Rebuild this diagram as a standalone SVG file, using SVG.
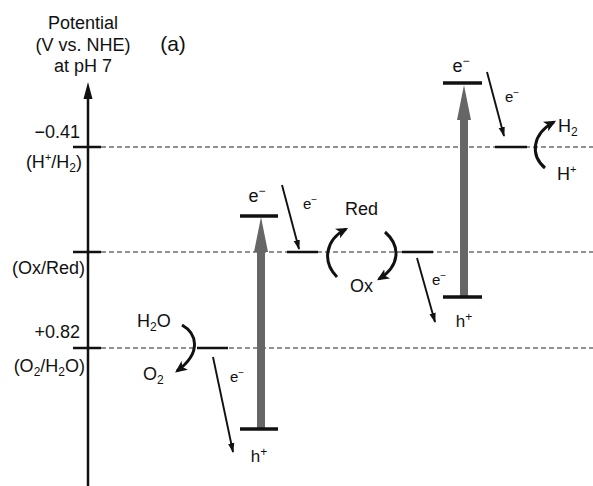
<svg xmlns="http://www.w3.org/2000/svg" width="593" height="486" viewBox="0 0 593 486">
<defs>
<style>
text{font-family:"Liberation Sans",Arial,sans-serif;fill:#111}
.lbl{font-size:18px}
.sm{font-size:15px}
.hp{font-size:17px}
.dash{stroke:#222;stroke-width:1.2;stroke-dasharray:5 3;fill:none}
.tick{stroke:#111;stroke-width:2.5}
.bar{stroke:#111;stroke-width:3.5}
.lvl{stroke:#111;stroke-width:2.5}
.thin{stroke:#111;stroke-width:1.9;fill:none;marker-end:url(#ah)}
.curve{stroke:#111;stroke-width:3;fill:none;marker-end:url(#ch)}
.gray{stroke:#666;stroke-width:8}
</style>
<marker id="ah" viewBox="0 0 10 10" refX="9" refY="5" markerWidth="10" markerHeight="10" markerUnits="userSpaceOnUse" orient="auto">
<path d="M0,1.8 L10,5 L0,8.2 Z" fill="#111"/>
</marker>
<marker id="ch" viewBox="0 0 10 10" refX="8" refY="5" markerWidth="12" markerHeight="12" markerUnits="userSpaceOnUse" orient="auto">
<path d="M0,0.5 L10,5 L0,9.5 L2.5,5 Z" fill="#111"/>
</marker>
</defs>

<g id="axis">
<line x1="88" y1="96" x2="88" y2="486" stroke="#111" stroke-width="2.5"/>
<path d="M88,82 L92.5,99 L83.5,99 Z" fill="#111"/>
<text class="lbl" x="83" y="29" text-anchor="middle">Potential</text>
<text class="lbl" x="83" y="51" text-anchor="middle">(V vs. NHE)</text>
<text class="lbl" x="83" y="72" text-anchor="middle">at pH 7</text>
<text x="173" y="51" text-anchor="middle" font-size="21">(a)</text>
</g>

<g id="level-h2">
<line class="tick" x1="73" y1="147" x2="101" y2="147"/>
<line class="dash" x1="101" y1="147" x2="593" y2="147"/>
<text class="lbl" x="80" y="138" text-anchor="end">−0.41</text>
<text class="lbl" x="82" y="168" text-anchor="end">(H<tspan font-size="11" dy="-7">+</tspan><tspan dy="7">/H</tspan><tspan font-size="12" dy="4">2</tspan><tspan dy="-4">)</tspan></text>
</g>

<g id="level-oxred">
<line class="tick" x1="73" y1="252" x2="101" y2="252"/>
<line class="dash" x1="101" y1="252" x2="593" y2="252"/>
<text class="lbl" x="85" y="274" text-anchor="end">(Ox/Red)</text>
</g>

<g id="level-o2">
<line class="tick" x1="73" y1="348" x2="101" y2="348"/>
<line class="dash" x1="101" y1="348" x2="593" y2="348"/>
<text class="lbl" x="80" y="338" text-anchor="end">+0.82</text>
<text class="lbl" x="85" y="372" text-anchor="end">(O<tspan font-size="12" dy="4">2</tspan><tspan dy="-4">/H</tspan><tspan font-size="12" dy="4">2</tspan><tspan dy="-4">O)</tspan></text>
</g>

<g id="ps-left">
<line class="gray" x1="261" y1="429" x2="261" y2="246"/>
<path d="M261,217 L268,252 L254,252 Z" fill="#666"/>
<line class="bar" x1="240" y1="216" x2="278" y2="216"/>
<line class="bar" x1="240" y1="429" x2="278" y2="429"/>
<text class="lbl" x="257" y="202" text-anchor="middle">e<tspan font-size="12" dy="-7">−</tspan></text>
<text class="hp" x="259" y="462" text-anchor="middle">h<tspan font-size="12" dy="-6">+</tspan></text>
</g>

<g id="ps-right">
<line class="gray" x1="464" y1="297" x2="464" y2="114"/>
<path d="M464,85 L471,120 L457,120 Z" fill="#666"/>
<line class="bar" x1="443" y1="83" x2="482" y2="83"/>
<line class="bar" x1="443" y1="297" x2="482" y2="297"/>
<text class="lbl" x="461" y="72" text-anchor="middle">e<tspan font-size="12" dy="-7">−</tspan></text>
<text class="hp" x="464" y="327" text-anchor="middle">h<tspan font-size="12" dy="-6">+</tspan></text>
</g>

<g id="water">
<line class="lvl" x1="197" y1="348" x2="228" y2="348"/>
<text class="lbl" x="137" y="327">H<tspan font-size="12" dy="4">2</tspan><tspan dy="-4">O</tspan></text>
<text class="lbl" x="143" y="380">O<tspan font-size="12" dy="4">2</tspan></text>
</g>

<g id="mediator">
<line class="lvl" x1="287" y1="252" x2="318" y2="252"/>
<line class="lvl" x1="402" y1="252" x2="433" y2="252"/>
<text class="lbl" x="345" y="215">Red</text>
<text class="lbl" x="350" y="292">Ox</text>
</g>

<g id="proton">
<line class="lvl" x1="495" y1="147" x2="527" y2="147"/>
<text class="lbl" x="558" y="132">H<tspan font-size="12" dy="4">2</tspan></text>
<text class="lbl" x="557" y="180">H<tspan font-size="11" dy="-7">+</tspan></text>
</g>

<g id="connectors">
<line class="thin" x1="213" y1="357" x2="233" y2="452"/>
<line class="thin" x1="282" y1="185" x2="299" y2="249"/>
<line class="thin" x1="417" y1="258" x2="435" y2="322"/>
<line class="thin" x1="487" y1="72" x2="504" y2="136"/>
<path class="curve" d="M182,325 C196,333 203,352 177,371"/>
<path class="curve" d="M337,277 C322,262 325,240 346,229"/>
<path class="curve" d="M385,232 C401,246 400,266 379,279"/>
<path class="curve" d="M545,168 C530,155 532,134 554,122"/>
<text class="sm" x="230" y="382">e<tspan font-size="10" dy="-6">−</tspan></text>
<text class="sm" x="303" y="209">e<tspan font-size="10" dy="-6">−</tspan></text>
<text class="sm" x="432" y="285">e<tspan font-size="10" dy="-6">−</tspan></text>
<text class="sm" x="505" y="102">e<tspan font-size="10" dy="-6">−</tspan></text>
</g>
</svg>
